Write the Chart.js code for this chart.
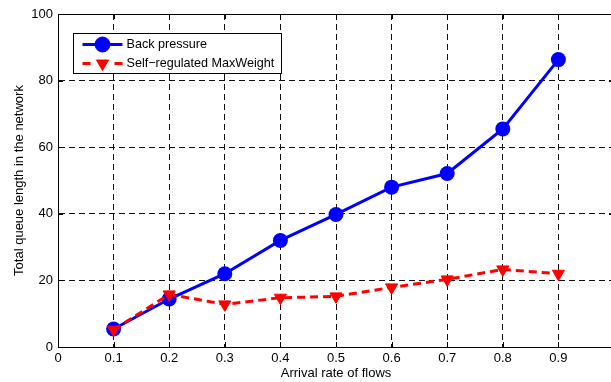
<!DOCTYPE html>
<html>
<head>
<meta charset="utf-8">
<script src="https://cdn.jsdelivr.net/npm/chart.js@4/dist/chart.umd.min.js"></script>
<style>
  html, body { margin: 0; padding: 0; background: #fff; overflow: hidden; width: 611px; height: 382px; }
  #wrap { width: 611px; height: 382px; overflow: hidden; }
  canvas { display: block; }
</style>
</head>
<body>
<div id="wrap"><canvas id="queueChart" width="624" height="382"></canvas></div>
<script>
// Arrival rate of flows (x) and total queue length (y) for both schedulers
const arrivalRates = [0.1, 0.2, 0.3, 0.4, 0.5, 0.6, 0.7, 0.8, 0.9];
const backPressure = [5.4, 14.4, 22.0, 32.0, 39.8, 48.0, 52.1, 65.5, 86.3];
const selfRegulated = [5.2, 15.8, 12.8, 14.8, 15.2, 17.9, 20.3, 23.3, 22.0];

const seriesNames = ['Back pressure', 'Self\u2212regulated MaxWeight'];

const xTickValues = [0, 0.1, 0.2, 0.3, 0.4, 0.5, 0.6, 0.7, 0.8, 0.9, 1.0];
const xTickLabels = ['0', '0.1', '0.2', '0.3', '0.4', '0.5', '0.6', '0.7', '0.8', '0.9', ''];
const yTickLabels = ['0', '20', '40', '60', '80', '100'];

const FONT = '"Liberation Sans", Arial, Helvetica, sans-serif';
const FONT_SIZE = 13;
const LEGEND_FONT_SIZE = 12.6;
Chart.defaults.font.family = FONT;
Chart.defaults.font.size = FONT_SIZE;
Chart.defaults.color = '#000';

const toPoints = ys => ys.map((y, i) => ({ x: arrivalRates[i], y }));

// Solid frame on top and inward tick marks on the axes
const framePlugin = {
  id: 'frame',
  beforeDatasetsDraw(chart) {
    const { ctx, chartArea: a, scales } = chart;
    ctx.save();
    ctx.strokeStyle = '#000';
    ctx.lineWidth = 1;
    ctx.beginPath();
    const top = Math.round(a.top) + 0.5;
    ctx.moveTo(a.left, top); ctx.lineTo(a.right, top);
    const right = Math.round(a.right) - 0.5;
    ctx.moveTo(right, a.top); ctx.lineTo(right, a.bottom);
    const len = 5;
    scales.x.ticks.forEach(t => {
      const px = Math.round(scales.x.getPixelForValue(t.value)) + 0.5;
      ctx.moveTo(px, a.bottom); ctx.lineTo(px, a.bottom - len);
      ctx.moveTo(px, a.top); ctx.lineTo(px, a.top + len);
    });
    scales.y.ticks.forEach(t => {
      const py = Math.round(scales.y.getPixelForValue(t.value)) + 0.5;
      ctx.moveTo(a.left, py); ctx.lineTo(a.left + len, py);
      ctx.moveTo(a.right, py); ctx.lineTo(a.right - len, py);
    });
    ctx.stroke();
    ctx.restore();
  }
};

function markerPath(ctx, style, cx, cy, r) {
  ctx.beginPath();
  if (style === 'triangle') {
    // downward-pointing triangle inscribed in a circle of radius r
    ctx.moveTo(cx, cy + r);
    ctx.lineTo(cx + r * Math.sin(Math.PI / 3), cy - r / 2);
    ctx.lineTo(cx - r * Math.sin(Math.PI / 3), cy - r / 2);
    ctx.closePath();
  } else {
    ctx.arc(cx, cy, r, 0, Math.PI * 2);
  }
}

// Boxed legend in the upper-left corner of the plot
const boxLegendPlugin = {
  id: 'boxLegend',
  afterDraw(chart) {
    const { ctx, chartArea: a } = chart;
    const x = Math.round(a.left + 15) + 0.5;
    const y = Math.round(a.top + 19) + 0.5;
    const w = 208, h = 40;
    ctx.save();
    ctx.fillStyle = '#fff';
    ctx.fillRect(x, y, w, h);
    ctx.strokeStyle = '#000';
    ctx.lineWidth = 1;
    ctx.strokeRect(x, y, w, h);
    chart.data.datasets.forEach((ds, i) => {
      const ry = y + 11 + i * 19;
      const x0 = x + 9, x1 = x + 49, xm = (x0 + x1) / 2;
      ctx.strokeStyle = ds.borderColor;
      ctx.lineWidth = ds.borderWidth;
      ctx.beginPath();
      if (ds.borderDash && ds.borderDash.length) {
        ctx.moveTo(x0, ry); ctx.lineTo(x0 + 8, ry);
        ctx.moveTo(x1 - 8, ry); ctx.lineTo(x1, ry);
      } else {
        ctx.moveTo(x0, ry); ctx.lineTo(x1, ry);
      }
      ctx.stroke();
      ctx.fillStyle = ds.backgroundColor;
      ctx.lineWidth = 1;
      markerPath(ctx, ds.pointStyle, xm, ry, ds.pointRadius);
      ctx.fill();
      ctx.stroke();
      ctx.fillStyle = '#000';
      ctx.font = LEGEND_FONT_SIZE + 'px ' + FONT;
      ctx.textBaseline = 'middle';
      ctx.textAlign = 'left';
      ctx.fillText(ds.label, x1 + 4, ry + 0.5);
    });
    ctx.restore();
  }
};

new Chart(document.getElementById('queueChart'), {
  type: 'line',
  data: {
    datasets: [
      {
        label: seriesNames[0],
        data: toPoints(backPressure),
        borderColor: '#0000ff',
        backgroundColor: '#0000ff',
        borderWidth: 3,
        pointStyle: 'circle',
        pointRadius: 7.5,
        pointBorderWidth: 0,
        tension: 0,
        order: 1
      },
      {
        label: seriesNames[1],
        data: toPoints(selfRegulated),
        borderColor: '#ff0000',
        backgroundColor: '#ff0000',
        borderWidth: 3,
        borderDash: [8, 5],
        pointStyle: 'triangle',
        pointRotation: 180,
        pointRadius: 7,
        pointBorderWidth: 1,
        tension: 0,
        order: 0
      }
    ]
  },
  options: {
    responsive: false,
    animation: false,
    devicePixelRatio: 1,
    events: [],
    layout: { padding: { top: 14, right: 10, left: 0, bottom: 0 } },
    plugins: { legend: { display: false }, tooltip: { enabled: false } },
    scales: {
      x: {
        type: 'linear',
        min: 0,
        max: 1,
        afterBuildTicks: scale => { scale.ticks = xTickValues.map(v => ({ value: v })); },
        afterFit: scale => { scale.height = 35; },
        ticks: {
          autoSkip: false,
          maxRotation: 0,
          padding: 4,
          callback: (value, index) => xTickLabels[index]
        },
        grid: { color: '#111', lineWidth: 1, drawTicks: false },
        border: { display: true, color: '#000', width: 1, dash: [6, 4] },
        title: { display: true, text: 'Arrival rate of flows', padding: { top: 0, bottom: 1 } }
      },
      y: {
        min: 0,
        max: 100,
        afterFit: scale => { scale.width = 58; },
        ticks: {
          stepSize: 20,
          padding: 5,
          callback: (value, index) => yTickLabels[index]
        },
        grid: { color: '#111', lineWidth: 1, drawTicks: false },
        border: { display: true, color: '#000', width: 1, dash: [6, 4] },
        title: { display: true, text: 'Total queue length in the network', padding: { top: 12, bottom: 0 } }
      }
    }
  },
  plugins: [framePlugin, boxLegendPlugin]
});
</script>
</body>
</html>
